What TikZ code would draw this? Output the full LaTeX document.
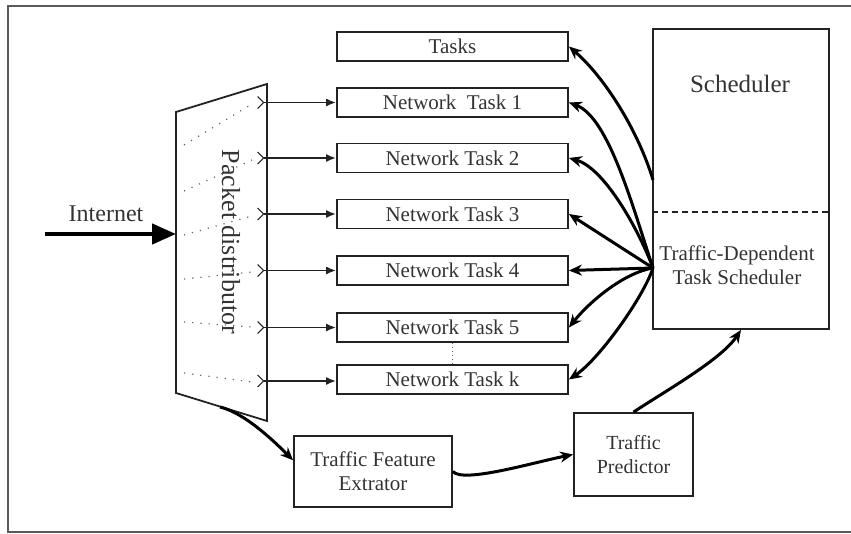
\documentclass[tikz,border=0pt]{standalone}
\usepackage{fontspec}
\setmainfont{Liberation Serif}
\usetikzlibrary{arrows.meta}
\definecolor{ink}{HTML}{222222}
\definecolor{txt}{HTML}{333333}
\begin{document}
\begin{tikzpicture}[x=1pt,y=-1pt,
  taskbox/.style={draw=ink,line width=1.8pt,minimum width=231pt,minimum height=29pt,inner sep=0pt,text=txt,font=\fontsize{21}{23}\selectfont},
  bigbox/.style={draw=ink,line width=1.8pt,inner sep=0pt,text=txt,align=center,font=\fontsize{21}{24}\selectfont},
  feed/.style={line width=1.7pt,draw=ink,{Straight Barb[reversed,length=6pt,width=12pt,line width=1.2pt]}-{Latex[length=10pt,width=8pt]}},
  dots/.style={line width=1.2pt,draw=ink!70,dash pattern=on 1.2pt off 7pt},
  fanarrow/.style={line width=3pt,draw=black,-{Stealth[length=13pt,width=11pt]}},
]
\useasboundingbox (0,0) rectangle (851,534);
% outer frame
\draw[line width=2.5pt,draw=ink!75] (851,6) -- (8,6) -- (8,532) -- (851,532);

% tasks
\node[taskbox] (tasks) at (452.5,46.5) {Tasks};
\node[taskbox] (t1) at (452.5,102.5) {Network\ \ Task 1};
\node[taskbox] (t2) at (452.5,158) {Network Task 2};
\node[taskbox] (t3) at (452.5,214) {Network Task 3};
\node[taskbox] (t4) at (452.5,270.5) {Network Task 4};
\node[taskbox] (t5) at (452.5,327.5) {Network Task 5};
\node[taskbox] (tk) at (452.5,379.5) {Network Task k};
\draw[dots,line width=1pt,dash pattern=on 1pt off 3pt] (t5.south) -- (tk.north);

% packet distributor
\draw[line width=1.8pt,draw=ink] (176,112) coordinate (pdtl) -- (267,84) -- (267,421) -- (176,393) coordinate (pdbl) -- cycle;
\node[rotate=-90,text=txt,font=\fontsize{26}{28}\selectfont] (pdtext) at (231,242) {Packet distributor};
\foreach \i/\ya/\yb in {1/145/104,2/191/160,3/235/216,4/279/272,5/322/327,6/373/382}{
  \coordinate (ds\i) at (184,\ya);
  \coordinate (de\i) at (252,\yb);
  \draw[dots] (ds\i) -- (de\i);
}
\foreach \n/\y in {t1/102.5,t2/158,t3/214,t4/270.5,t5/327.5,tk/381}{
  \coordinate (s\n) at (257,\y);
  \draw[feed] (s\n) -- (\n.west |- s\n);
}

% internet
\coordinate (inet0) at (45,234);
\coordinate (inet1) at (176,234);
\draw[line width=4.5pt,-{Triangle[length=24pt,width=20pt]}] (inet0) -- (inet1);
\node[text=txt,font=\fontsize{24}{26}\selectfont] (inettext) at (106,214) {Internet};

% scheduler
\node[bigbox,minimum width=176pt,minimum height=300pt] (sched) at (741,179) {};
\draw[line width=1.6pt,draw=ink,dash pattern=on 6pt off 4pt] (sched.west |- 0,212) coordinate (dl) -- (sched.east |- 0,212) coordinate (dr);
\node[text=txt,font=\fontsize{25}{27}\selectfont] (schedtitle) at (740,84) {Scheduler};
\node[text=txt,align=center,font=\fontsize{21}{24}\selectfont] (tds) at (737,265) {Traffic-Dependent\\Task Scheduler};
\coordinate (fan0) at (653,180);
\coordinate (fan) at (653,268);

\draw[fanarrow] (fan0) .. controls +(-15,-50) and +(35,30) .. (tasks.east);
\draw[fanarrow] (fan) .. controls +(-20,-60) and +(40,15) .. (t1.east);
\draw[fanarrow] (fan) .. controls +(-15,-40) and +(35,10) .. (t2.east);
\draw[fanarrow] (fan) -- (t3.east);
\draw[fanarrow] (fan) -- (t4.east);
\draw[fanarrow] (fan) .. controls +(-30,5) and +(20,-25) .. (t5.east);
\draw[fanarrow] (fan) .. controls +(-10,30) and +(30,-20) .. (tk.east);

% bottom boxes
\node[bigbox,minimum width=158pt,minimum height=71pt] (tfe) at (373,471.5) {Traffic Feature\\Extrator};
\node[bigbox,minimum width=119pt,minimum height=83pt,font=\fontsize{20}{24}\selectfont] (tp) at (633.5,454.5) {Traffic\\Predictor};

\coordinate (pdbot) at (220,407);
\draw[fanarrow] (pdbot) .. controls +(20,5) and +(-30,-30) .. (tfe.172);
\draw[fanarrow] (tfe.east) .. controls +(10,12) and +(-40,8) .. (tp.west);
\draw[fanarrow] (tp.north) .. controls +(30,-20) and +(-20,30) .. (sched.south);
\end{tikzpicture}
\end{document}
